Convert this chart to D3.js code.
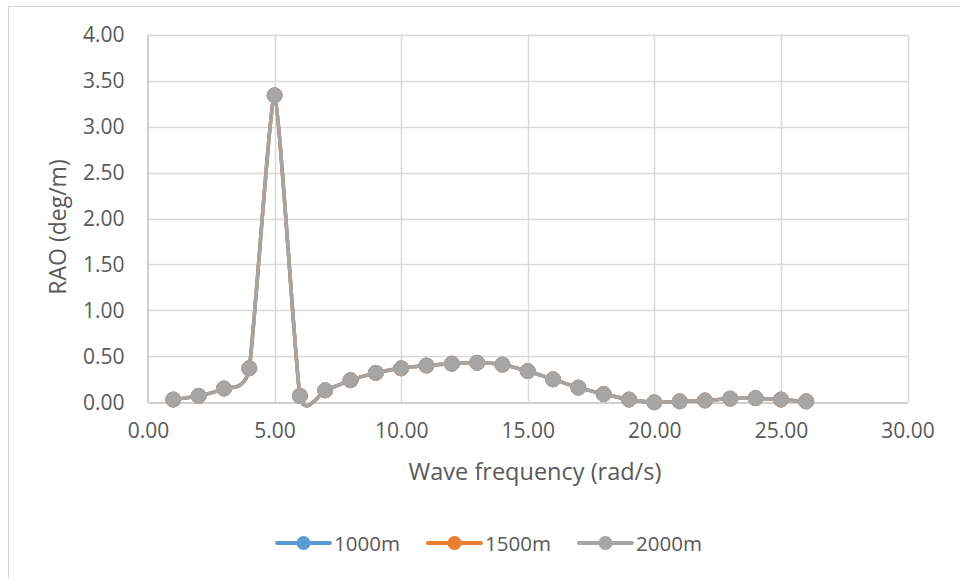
<!DOCTYPE html>
<html>
<head>
<meta charset="utf-8">
<script src="https://cdn.jsdelivr.net/npm/d3@7"></script>
<style>
  body { margin: 0; background: #fff; }
  svg text { font-family: "Open Sans", Roboto, sans-serif; fill: #595959; }
</style>
</head>
<body>
<svg id="chart" width="960" height="579"></svg>
<script>
// wave frequency (rad/s)
const freq = [1, 2, 3, 4, 5, 6, 7, 8, 9, 10, 11, 12, 13, 14, 15, 16, 17, 18, 19, 20, 21, 22, 23, 24, 25, 26];

// RAO (deg/m) per water depth
const rao1000 = [0.03, 0.07, 0.15, 0.37, 3.34, 0.07, 0.13, 0.24, 0.32, 0.37, 0.40, 0.42, 0.43, 0.41, 0.34, 0.25, 0.16, 0.09, 0.03, 0.00, 0.01, 0.02, 0.04, 0.045, 0.03, 0.01];
const rao1500 = [0.03, 0.07, 0.15, 0.37, 3.34, 0.07, 0.13, 0.24, 0.32, 0.37, 0.40, 0.42, 0.43, 0.41, 0.34, 0.25, 0.16, 0.09, 0.03, 0.00, 0.01, 0.02, 0.04, 0.045, 0.03, 0.01];
const rao2000 = [0.03, 0.07, 0.15, 0.37, 3.34, 0.07, 0.13, 0.24, 0.32, 0.37, 0.40, 0.42, 0.43, 0.41, 0.34, 0.25, 0.16, 0.09, 0.03, 0.00, 0.01, 0.02, 0.04, 0.045, 0.03, 0.01];

const seriesNames = ['1000m', '1500m', '2000m'];
const seriesColors = ['#5B9BD5', '#ED7D31', '#A5A5A5'];
const xTicks = [0, 5, 10, 15, 20, 25, 30];
const yTicks = [0, 0.5, 1, 1.5, 2, 2.5, 3, 3.5, 4];

const series = [rao1000, rao1500, rao2000].map((vals, i) => ({
  name: seriesNames[i],
  color: seriesColors[i],
  points: freq.map((f, j) => [f, vals[j]])
}));

const svg = d3.select('#chart');

// chart border
svg.append('rect')
  .attr('x', 8.5)
  .attr('y', 6.5)
  .attr('width', 1000)
  .attr('height', 1000)
  .attr('fill', 'none')
  .attr('stroke', '#d9d9d9');

const x = d3.scaleLinear().domain([0, 30]).range([148, 907.5]);
const y = d3.scaleLinear().domain([0, 4]).range([402.3, 34.7]);

// gridlines
svg.append('g')
  .selectAll('line.h')
  .data(yTicks.slice(1))
  .enter()
  .append('line')
  .attr('x1', x(0))
  .attr('x2', x(30))
  .attr('y1', d => Math.round(y(d)) + 0.5)
  .attr('y2', d => Math.round(y(d)) + 0.5)
  .attr('stroke', '#d9d9d9')
  .attr('stroke-width', 1.5);

svg.append('g')
  .selectAll('line.v')
  .data(xTicks.slice(1))
  .enter()
  .append('line')
  .attr('x1', d => Math.round(x(d)) + 0.5)
  .attr('x2', d => Math.round(x(d)) + 0.5)
  .attr('y1', y(4))
  .attr('y2', y(0))
  .attr('stroke', '#d9d9d9')
  .attr('stroke-width', 1.5);

// axes
const xAxis = svg.append('g')
  .attr('transform', `translate(0,${Math.round(y(0)) + 0.5})`)
  .call(d3.axisBottom(x).tickValues(xTicks).tickFormat(d3.format('.2f')).tickSize(0).tickPadding(21));
xAxis.select('.domain').attr('stroke', '#bfbfbf').attr('stroke-width', 1.5);
xAxis.selectAll('text').attr('font-size', 21).attr('fill', '#595959');

const yAxis = svg.append('g')
  .attr('transform', `translate(${Math.round(x(0)) - 0.5},0)`)
  .call(d3.axisLeft(y).tickValues(yTicks).tickFormat(d3.format('.2f')).tickSize(0).tickPadding(23));
yAxis.select('.domain').attr('stroke', '#bfbfbf').attr('stroke-width', 1.5);
yAxis.selectAll('text').attr('font-size', 21).attr('fill', '#595959');

// axis titles
svg.append('text')
  .attr('x', 535)
  .attr('y', 480)
  .attr('text-anchor', 'middle')
  .attr('font-size', 23.5)
  .text('Wave frequency (rad/s)');

svg.append('text')
  .attr('transform', 'translate(66,227) rotate(-90)')
  .attr('text-anchor', 'middle')
  .attr('font-size', 23)
  .text('RAO (deg/m)');

// series
const line = d3.line()
  .x(d => x(d[0]))
  .y(d => y(d[1]))
  .curve(d3.curveCardinal.tension(0.5));

series.forEach((s) => {
  const g = svg.append('g');
  g.append('path')
    .datum(s.points)
    .attr('fill', 'none')
    .attr('stroke', s.color)
    .attr('stroke-width', 3.5)
    .attr('stroke-linejoin', 'round')
    .attr('d', line);
  g.selectAll('circle')
    .data(s.points)
    .enter()
    .append('circle')
    .attr('cx', d => x(d[0]))
    .attr('cy', d => y(d[1]))
    .attr('r', 7.5)
    .attr('fill', s.color)
    .attr('stroke', s.color);
});

// legend
const legendX = [277, 428, 579];
const legend = svg.append('g');
series.forEach((s, i) => {
  const lg = legend.append('g').attr('transform', `translate(${legendX[i]},543)`);
  lg.append('line')
    .attr('x1', 0)
    .attr('x2', 53)
    .attr('stroke', s.color)
    .attr('stroke-width', 4)
    .attr('stroke-linecap', 'round');
  lg.append('circle')
    .attr('cx', 26.5)
    .attr('r', 7)
    .attr('fill', s.color);
  lg.append('text')
    .attr('x', 57)
    .attr('y', 7.5)
    .attr('font-size', 20.5)
    .text(s.name);
});
</script>
</body>
</html>
